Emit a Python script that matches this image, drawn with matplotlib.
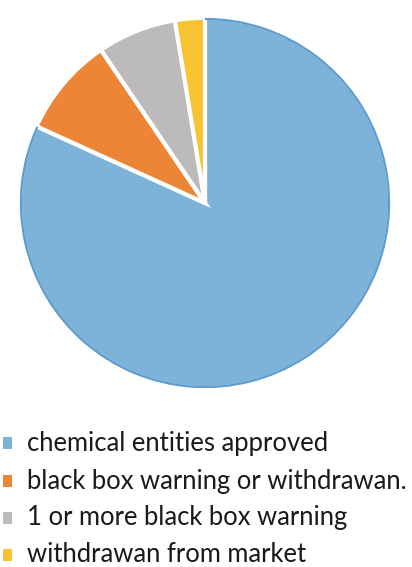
import matplotlib
matplotlib.use("Agg")
import matplotlib.pyplot as plt
import matplotlib.patches as mpatches

labels = ["chemical entities approved",
          "black box warning or withdrawan.",
          "1 or more black box warning",
          "withdrawan from market"]
shares = [81.8, 8.7, 6.9, 2.6]
colors = ["#7DB3D9", "#ED8537", "#BCBABA", "#F8C230"]

W, H = 412, 567
fig = plt.figure(figsize=(W / 100, H / 100), dpi=100)

# pie: centre about (205, 203) px, radius about 187 px
cx, cy, r = 205, 203, 187
ax = fig.add_axes([(cx - r) / W, 1 - (cy + r) / H, 2 * r / W, 2 * r / H])
wedges, _ = ax.pie(shares, colors=colors, startangle=90, counterclock=False,
                   wedgeprops=dict(edgecolor="white", linewidth=3))
# thin darker rim on the big blue slice, as in the reference
rim = mpatches.Wedge((0, 0), 1, wedges[0].theta1, wedges[0].theta2,
                     width=0.012, facecolor="#5E9CCB", edgecolor="none")
ax.add_patch(rim)
ax.set_xlim(-1.01, 1.01)
ax.set_ylim(-1.01, 1.01)
ax.set_aspect("equal")
ax.axis("off")

# legend drawn by hand, one row per label
fam = ["Lato", "DejaVu Sans"]
rows_y = [443, 481, 518, 555]
texts = []
for lab, col, y in zip(labels, colors, rows_y):
    fig.patches.append(mpatches.Rectangle((3 / W, 1 - (y + 6) / H), 9 / W, 12 / H,
                                          transform=fig.transFigure,
                                          facecolor=col, edgecolor="none"))
    t = fig.text(27 / W, 1 - y / H, lab, fontsize=14, family=fam,
                 color="#1a1a1a", va="center", ha="left")
    texts.append(t)

# scale the font so the longest label spans like the reference
fig.canvas.draw()
rend = fig.canvas.get_renderer()
widest = max(t.get_window_extent(rend).width for t in texts)
size = 14 * 383 / widest
for t in texts:
    t.set_fontsize(size)

fig.savefig("out.png", dpi=100)
